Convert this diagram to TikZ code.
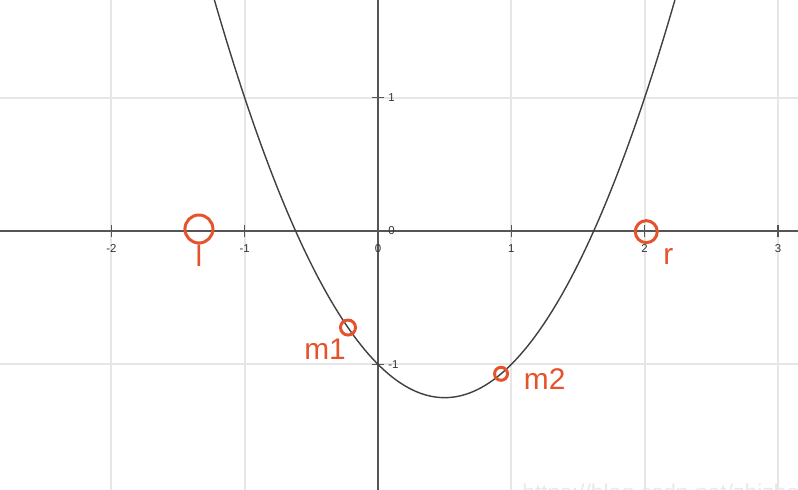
\documentclass[tikz,border=0pt]{standalone}
\usepackage{fontspec}
\setmainfont{Liberation Sans}
\usetikzlibrary{positioning}
\definecolor{markred}{RGB}{229,83,45}
\definecolor{gridgray}{RGB}{230,230,230}
\definecolor{axisgray}{RGB}{85,85,85}

\begin{document}
\begin{tikzpicture}[x=2.667cm,y=2.667cm,
  gridline/.style={gridgray,line width=1.1pt},
  axisline/.style={axisgray,line width=0.9pt},
  curveline/.style={black!75,line width=0.8pt},
  ticklab/.style={font=\fontsize{6.5}{7}\selectfont,text=black!80,inner sep=0pt},
  probe/.style={circle,draw=markred,line width=1.7pt,inner sep=0pt},
  probelab/.style={text=markred,font=\fontsize{17}{18}\selectfont,inner sep=0pt}]
\useasboundingbox (-2.835,-1.9425) rectangle (3.15,1.7325);
% grid and axes
\foreach \i in {-2,-1,1,2,3}
  \draw[gridline] (\i,-1.9425) -- (\i,1.7325);
\foreach \j in {-1,1}
  \draw[gridline] (-2.835,\j) -- (3.15,\j);
\draw[axisline] (-2.835,0) -- (3.15,0);
\draw[axisline] (0,-1.9425) -- (0,1.7325);
\foreach \i in {-2,-1,0,1,2,3}{
  \draw[axisline] (\i,-0.045) -- (\i,0.045);
  \node[ticklab] at (\i,-0.13) {\i};
}
\foreach \j in {-1,0,1}{
  \draw[axisline] (-0.045,\j) -- (0.045,\j);
  \node[ticklab,anchor=west] at (0.075,\j) {\j};
}
% the function
\draw[curveline] plot[domain=-1.227:2.227,samples=120] (\x,{\x*\x-\x-1});
% marked points
\node (l) [probe,minimum size=0.56cm] at (-1.343,0.015) {};
\node (r) [probe,minimum size=0.44cm] at (2.012,-0.005) {};
\node (m1) [probe,minimum size=0.3cm] at (-0.225,-0.724) {};
\node (m2) [probe,minimum size=0.26cm] at (0.923,-1.071) {};
\node (ltext) [probelab,below=0pt of l] {l};
\node (rtext) [probelab,below right=0.16cm and 0.16cm of r] {r};
\node (m1text) [probelab,below left=0.1cm and -0.09cm of m1] {m1};
\node (m2text) [probelab,right=0.29cm of m2,yshift=-0.1cm] {m2};
\node (mark) [anchor=base west,text=black!9,font=\fontsize{13}{14}\selectfont,inner sep=0pt]
  at (1.08,-2.02) {https://blog.csdn.net/zhizhengguan};
\end{tikzpicture}
\end{document}
